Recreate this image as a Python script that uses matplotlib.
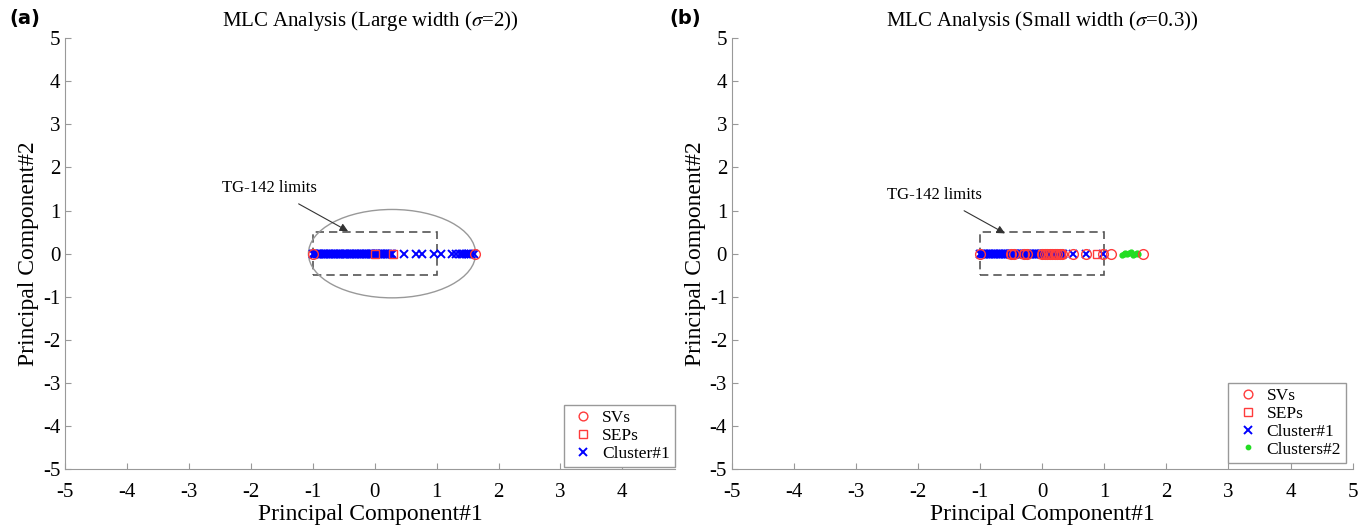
import matplotlib
matplotlib.use("Agg")
import matplotlib.pyplot as plt
from matplotlib.patches import Ellipse, Rectangle

plt.rcParams['font.family'] = ['Liberation Serif', 'DejaVu Serif']
plt.rcParams['mathtext.fontset'] = 'stix'
plt.rcParams['axes.unicode_minus'] = False

# ---- datos panel (a): sigma = 2 ----
sv_a_x = [-1.0, 1.62]
sep_a_x = [0.0, 0.3]
c1_a_x = [-1.0, -0.98, -0.96, -0.94, -0.92, -0.90, -0.88, -0.86, -0.84, -0.82,
          -0.80, -0.78, -0.76, -0.74, -0.72, -0.70, -0.68, -0.66, -0.64, -0.62,
          -0.60, -0.58, -0.56, -0.54, -0.52, -0.50, -0.48, -0.46, -0.44, -0.42,
          -0.40, -0.38, -0.36, -0.34, -0.32, -0.30, -0.28, -0.26, -0.24, -0.22,
          -0.20, -0.18, -0.16, -0.14, -0.12, -0.10, -0.08, -0.06, -0.04, -0.02,
          0.0, 0.02, 0.04, 0.06, 0.08, 0.10, 0.12, 0.14, 0.16, 0.18,
          0.20, 0.22, 0.24, 0.26, 0.28, 0.48, 0.66, 0.77, 0.96, 1.07,
          1.25, 1.32, 1.37, 1.41, 1.44, 1.47, 1.5, 1.53, 1.56, 1.6]

# ---- datos panel (b): sigma = 0.3 ----
sv_b_x = [-1.0, -0.5, -0.45, -0.3, -0.25, 0.0, 0.04, 0.08, 0.12, 0.16,
          0.2, 0.24, 0.28, 0.32, 0.5, 0.7, 0.98, 1.1, 1.62]
sep_b_x = [-0.5, -0.3, 0.0, 0.1, 0.2, 0.3, 0.88]
c1_b_x = [-1.0, -0.98, -0.96, -0.94, -0.92, -0.90, -0.88, -0.86, -0.84, -0.82,
          -0.80, -0.78, -0.76, -0.74, -0.72, -0.70, -0.68, -0.66, -0.64, -0.62,
          -0.60, -0.58, -0.56, -0.54, -0.52, -0.50, -0.48, -0.46, -0.44, -0.42,
          -0.40, -0.38, -0.36, -0.34, -0.32, -0.30, -0.28, -0.26, -0.24, -0.22,
          -0.20, -0.18, -0.16, -0.14, -0.12, -0.10, -0.08, -0.06, -0.04, -0.02,
          0.0, 0.02, 0.04, 0.06, 0.08, 0.10, 0.12, 0.14, 0.16, 0.18,
          0.20, 0.22, 0.24, 0.26, 0.28, 0.31, 0.33, 0.5, 0.7, 0.98]
c2_b_x = [1.28, 1.31, 1.34, 1.37, 1.40, 1.43, 1.46, 1.49, 1.52, 1.55]
c2_b_y = [-0.02, 0.0, 0.02, -0.01, 0.01, 0.03, -0.02, 0.0, 0.02, 0.0]

ticks = [-5, -4, -3, -2, -1, 0, 1, 2, 3, 4, 5]
rojo = '#ff3b3b'

fig = plt.figure(figsize=(13.58, 5.29), dpi=100)
ax1 = fig.add_axes([0.048, 0.113, 0.449, 0.815])
ax2 = fig.add_axes([0.539, 0.113, 0.457, 0.815])


def estilo(ax, xmax):
    ax.set_xlim(-5, xmax)
    ax.set_ylim(-5, 5)
    ax.set_xticks([t for t in ticks if t <= xmax])
    ax.set_yticks(ticks)
    for s in ['top', 'right']:
        ax.spines[s].set_visible(False)
    for s in ['left', 'bottom']:
        ax.spines[s].set_color('#999999')
    ax.tick_params(direction='in', color='#999999', labelsize=15, length=4)
    ax.tick_params(axis='x', pad=10)
    ax.set_xlabel('Principal Component#1', fontsize=17, labelpad=1)
    ax.set_ylabel('Principal Component#2', fontsize=17, labelpad=3)
    # limites TG-142
    ax.add_patch(Rectangle((-1, -0.5), 2, 1, fill=False, ls=(0, (5, 3)),
                           ec='#555555', lw=1.2))


def leyenda(ax, orden, anchor):
    h, l = ax.get_legend_handles_labels()
    ax.legend([h[i] for i in orden], [l[i] for i in orden], loc='lower right',
              fontsize=12.5, fancybox=False, edgecolor='#999999', framealpha=1,
              borderaxespad=0, handletextpad=0.3, borderpad=0.3,
              labelspacing=0.1, handlelength=1.6, markerscale=0.9,
              bbox_to_anchor=anchor)


# Panel (a)
estilo(ax1, 4.85)
ax1.add_patch(Ellipse((0.28, 0), 2.7, 2.05, fill=False, ec='#999999', lw=1))
ax1.plot(c1_a_x, [0] * len(c1_a_x), 'x', color='blue', ms=6, mew=1.4,
         label='Cluster#1', zorder=3)
ax1.plot(sv_a_x, [0] * len(sv_a_x), 'o', mfc='none', mec=rojo, ms=7,
         mew=1, label='SVs', zorder=4)
ax1.plot(sep_a_x, [0] * len(sep_a_x), 's', mfc='none', mec=rojo, ms=6,
         mew=1, label='SEPs', zorder=4)
ax1.annotate('TG-142 limits', xy=(-0.43, 0.52), xytext=(-1.7, 1.53),
             fontsize=12, ha='center', va='center',
             arrowprops=dict(arrowstyle='-|>', color='#333333', lw=0.8,
                             shrinkA=8, shrinkB=0))
leyenda(ax1, [1, 2, 0], (1.0, 0.005))
ax1.set_title(r'MLC Analysis (Large width ($\sigma$=2))', fontsize=15, pad=9)

# Panel (b)
estilo(ax2, 5)
ax2.plot(c1_b_x, [0] * len(c1_b_x), 'x', color='blue', ms=6, mew=1.4,
         label='Cluster#1', zorder=3)
ax2.plot(c2_b_x, c2_b_y, '.', color='#22dd22', ms=7, label='Clusters#2',
         zorder=3)
ax2.plot(sv_b_x, [0] * len(sv_b_x), 'o', mfc='none', mec=rojo, ms=7,
         mew=1, label='SVs', zorder=4)
ax2.plot(sep_b_x, [0] * len(sep_b_x), 's', mfc='none', mec=rojo, ms=6,
         mew=1, label='SEPs', zorder=4)
ax2.annotate('TG-142 limits', xy=(-0.6, 0.47), xytext=(-1.73, 1.37),
             fontsize=12, ha='center', va='center',
             arrowprops=dict(arrowstyle='-|>', color='#333333', lw=0.8,
                             shrinkA=8, shrinkB=0))
leyenda(ax2, [2, 3, 0, 1], (0.99, 0.015))
ax2.set_title(r'MLC Analysis (Small width ($\sigma$=0.3))', fontsize=15, pad=9)

fig.text(0.007, 0.955, '(a)', fontsize=14, fontweight='bold',
         family='DejaVu Sans')
fig.text(0.493, 0.955, '(b)', fontsize=14, fontweight='bold',
         family='DejaVu Sans')

fig.savefig('out.png', dpi=100)
